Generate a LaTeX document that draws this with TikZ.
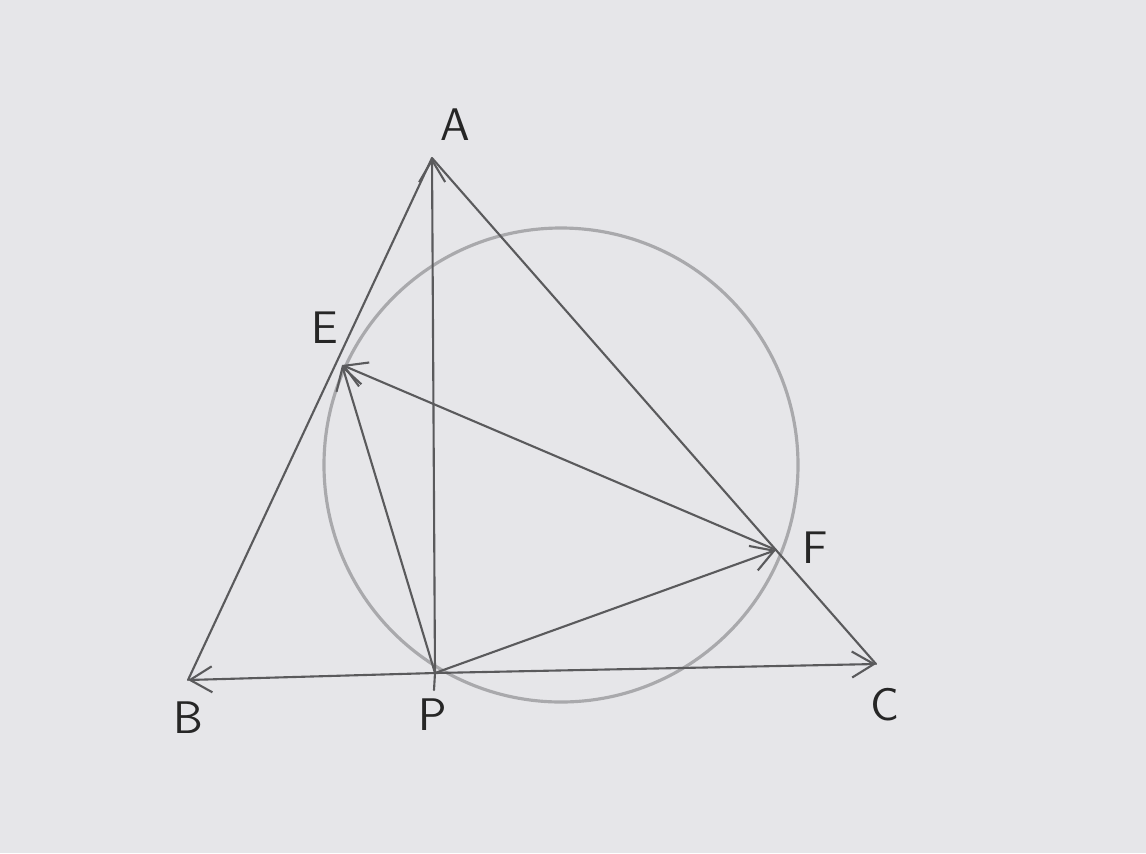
\documentclass[tikz,border=0pt]{standalone}
\usetikzlibrary{arrows.meta, calc}
\definecolor{cPaper}{HTML}{E6E6E9}
\definecolor{cPencil}{HTML}{5A5A5C}
\definecolor{cCircle}{HTML}{A9A9AC}
\tikzset{
  pencil/.style={draw=cPencil, line width=0.6pt, line cap=round},
  vec/.style={pencil, -{Straight Barb[length=2.2mm, width=2.6mm]}},
  faint/.style={draw=cCircle, line width=0.9pt},
  ptlabel/.style={font=\fontsize{13}{15}\selectfont\sffamily, text=black!85, inner sep=1pt},
}
\begin{document}
\begin{tikzpicture}

  % ----------------------------------------------------------------
  % Paper
  % ----------------------------------------------------------------
  \fill[cPaper] (0,0) rectangle (11.46,8.53);
  \useasboundingbox (0,0) rectangle (11.46,8.53);

  % ----------------------------------------------------------------
  % Points
  % ----------------------------------------------------------------
  \coordinate (A) at (4.32,6.95);
  \coordinate (B) at (1.88,1.73);
  \coordinate (C) at (8.76,1.89);
  \coordinate (P) at (4.35,1.80);
  \coordinate (E) at (3.42,4.88);
  \coordinate (F) at (7.76,3.03);
  \coordinate (Pext) at (4.34,1.63);
  \coordinate (O) at (5.61,3.88);

  % ----------------------------------------------------------------
  % Circle through E, P, F
  % ----------------------------------------------------------------
  \draw[faint] (O) circle (2.37);

  % ----------------------------------------------------------------
  % Triangle sides
  % ----------------------------------------------------------------
  \draw[pencil] (A) -- (B);
  \draw[pencil] (A) -- (C);
  \draw[pencil] (P) -- (Pext);

  % ----------------------------------------------------------------
  % Vectors out of P
  % ----------------------------------------------------------------
  \draw[vec] (P) -- (A);
  \draw[vec] (P) -- (B);
  \draw[vec] (P) -- (C);
  \draw[vec] (P) -- (E);
  \draw[vec] (P) -- (F);
  \draw[vec] (F) -- (E);

  % ----------------------------------------------------------------
  % Labels
  % ----------------------------------------------------------------
  \node[ptlabel] (lA) at (4.55,7.28) {A};
  \node[ptlabel] (lE) at (3.25,5.25) {E};
  \node[ptlabel] (lF) at (8.15,3.05) {F};
  \node[ptlabel] (lB) at (1.88,1.35) {B};
  \node[ptlabel] (lP) at (4.33,1.38) {P};
  \node[ptlabel] (lC) at (8.85,1.48) {C};

\end{tikzpicture}
\end{document}
